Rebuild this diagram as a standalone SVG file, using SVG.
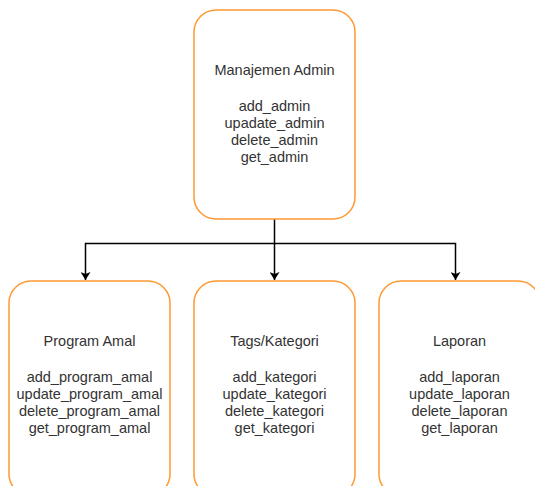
<svg xmlns="http://www.w3.org/2000/svg" width="535" height="486" viewBox="0 0 535 486">
<style>
.box{fill:#fff;stroke:#FF9933;stroke-width:1.5}
.t{font-family:"Liberation Sans",Arial,sans-serif;font-size:14.5px;fill:#333;text-anchor:middle}
.c{fill:none;stroke:#000;stroke-width:1.5}
</style>
<defs>
<marker id="ah" markerWidth="10" markerHeight="10" refX="8" refY="5" orient="auto" markerUnits="userSpaceOnUse">
<path d="M0,0 L8,5 L0,10 L2,5 Z" fill="#000"/>
</marker>
</defs>
<rect width="535" height="486" fill="#fff"/>
<g id="connectors">
<path class="c" d="M274.5,219 V280" marker-end="url(#ah)"/>
<path class="c" d="M274.5,243.5 H85.5 V280" marker-end="url(#ah)"/>
<path class="c" d="M274.5,243.5 H455.5 V280" marker-end="url(#ah)"/>
</g>
<g id="manajemen-admin">
<rect class="box" x="194" y="10" width="161" height="209" rx="22"/>
<text class="t" x="274.5" y="75">Manajemen Admin</text>
<text class="t" x="274.5" y="111">add_admin</text>
<text class="t" x="274.5" y="128">upadate_admin</text>
<text class="t" x="274.5" y="145">delete_admin</text>
<text class="t" x="274.5" y="162">get_admin</text>
</g>
<g id="program-amal">
<rect class="box" x="9" y="281" width="161" height="215" rx="22"/>
<text class="t" x="89.5" y="346">Program Amal</text>
<text class="t" x="89.5" y="382">add_program_amal</text>
<text class="t" x="89.5" y="399">update_program_amal</text>
<text class="t" x="89.5" y="416">delete_program_amal</text>
<text class="t" x="89.5" y="433">get_program_amal</text>
</g>
<g id="tags-kategori">
<rect class="box" x="194" y="281" width="161" height="215" rx="22"/>
<text class="t" x="274.5" y="346">Tags/Kategori</text>
<text class="t" x="274.5" y="382">add_kategori</text>
<text class="t" x="274.5" y="399">update_kategori</text>
<text class="t" x="274.5" y="416">delete_kategori</text>
<text class="t" x="274.5" y="433">get_kategori</text>
</g>
<g id="laporan">
<rect class="box" x="379" y="281" width="161" height="215" rx="22"/>
<text class="t" x="459.5" y="346">Laporan</text>
<text class="t" x="459.5" y="382">add_laporan</text>
<text class="t" x="459.5" y="399">update_laporan</text>
<text class="t" x="459.5" y="416">delete_laporan</text>
<text class="t" x="459.5" y="433">get_laporan</text>
</g>
</svg>
